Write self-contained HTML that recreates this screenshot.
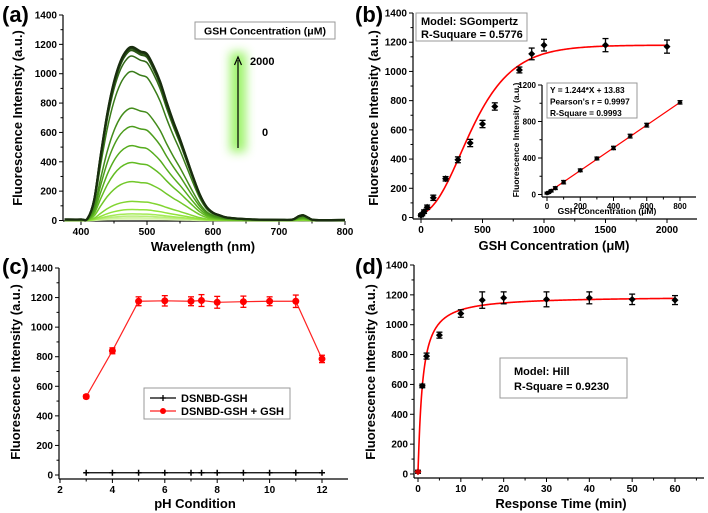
<!DOCTYPE html>
<html><head><meta charset="utf-8">
<style>
html,body{margin:0;padding:0;background:#fff;}
svg{display:block;font-family:"Liberation Sans",Arial,sans-serif;font-weight:bold;}
</style></head>
<body>
<svg id="fig" width="708" height="513" viewBox="0 0 708 513" xmlns="http://www.w3.org/2000/svg">
<defs>
<filter id="glow" x="-100%" y="-50%" width="300%" height="200%"><feGaussianBlur stdDeviation="5"/></filter>
</defs>
<g id="pa"></g>
<g id="pb"></g>
<g id="pc"></g>
<g id="pd"></g>
</svg>
<script>
// ---- Panel (a) data ----
const specWl = [375,400,410,420,430,440,450,460,470,478,490,500,510,520,530,540,550,560,570,580,590,600,610,620,640,660,700,720,730,737,745,755,800];
const specShape = [0.006,0.006,0.012,0.12,0.38,0.62,0.80,0.92,0.985,1.0,0.975,0.96,0.89,0.80,0.68,0.57,0.47,0.36,0.25,0.15,0.08,0.045,0.03,0.018,0.01,0.006,0.004,0.005,0.025,0.03,0.015,0.003,0.003];
const specPeaks = [8,18,30,45,75,130,265,395,510,640,765,1015,1120,1160,1175,1182];
// ---- Panel (b) data ----
const bConc = [0,10,25,50,100,200,300,400,500,600,800,900,1000,1500,2000];
const bVal = [15,22,40,70,135,265,395,510,640,760,1010,1120,1180,1180,1170];
const bErr = [10,10,12,15,18,15,20,25,25,25,20,40,40,45,45];
const bFit = [1180,0.00437,321]; // SGompertz a,k,xc
const insConc = [0,10,25,50,100,200,300,400,500,600,800];
const insVal = [15,22,40,70,135,265,395,510,640,760,1010];
const insErr = [10,10,12,15,18,15,15,18,20,20,18];
const insFit = [1.244,13.83];
// ---- Panel (c) data ----
const cPH = [3,4,5,6,7,7.4,8,9,10,11,12];
const cRed = [530,840,1175,1178,1175,1180,1168,1172,1175,1175,785];
const cRedErr = [12,20,30,35,30,40,40,38,30,42,25];
const cBlack = [15,15,15,15,15,15,15,15,15,15,15];
// ---- Panel (d) data ----
const dT = [0,1,2,5,10,15,20,30,40,50,60];
const dVal = [15,590,790,930,1075,1165,1180,1170,1180,1170,1165];
const dErr = [10,12,20,20,25,55,40,50,40,35,30];
const dFit = [1190,1.05,1.1]; // Hill Vmax,k,n

const NS="http://www.w3.org/2000/svg";
function mk(parent,tag,attrs,text){const e=document.createElementNS(NS,tag);for(const k in attrs)e.setAttribute(k,attrs[k]);if(text!==undefined)e.textContent=text;parent.appendChild(e);return e;}
function lin(d0,d1,r0,r1){return v=>r0+(v-d0)*(r1-r0)/(d1-d0);}
function smoothPath(pts){let d="M"+pts[0][0].toFixed(2)+","+pts[0][1].toFixed(2);for(let i=0;i<pts.length-1;i++){const p0=pts[i-1]||pts[i],p1=pts[i],p2=pts[i+1],p3=pts[i+2]||p2;const c1=[p1[0]+(p2[0]-p0[0])/6,p1[1]+(p2[1]-p0[1])/6],c2=[p2[0]-(p3[0]-p1[0])/6,p2[1]-(p3[1]-p1[1])/6];d+="C"+c1.map(v=>v.toFixed(2))+" "+c2.map(v=>v.toFixed(2))+" "+p2.map(v=>v.toFixed(2));}return d;}

function axes(g,o){
  const fs=o.fs||10;
  const ax=mk(g,"g",{});
  
  
  mk(ax,"line",{x1:o.ax,y1:o.ay,x2:o.xEnd,y2:o.ay,stroke:"#000","stroke-width":1.2});
  mk(ax,"line",{x1:o.ax,y1:o.ay,x2:o.ax,y2:o.yTop,stroke:"#000","stroke-width":1.2});
  o.xt.forEach((v,i)=>{const x=o.xs(v);mk(ax,"line",{x1:x,y1:o.ay,x2:x,y2:o.ay+4,stroke:"#000","stroke-width":1});
    const t=mk(ax,"text",{x:x,y:o.ay+4+fs,"text-anchor":"middle","font-size":fs},v);
    
    
    if(i<o.xt.length-1){const m=o.xs((v+o.xt[i+1])/2);mk(ax,"line",{x1:m,y1:o.ay,x2:m,y2:o.ay+2.5,stroke:"#000","stroke-width":1});}
    else if(o.xMinorEnd){const m=o.xs(v+(v-o.xt[i-1])/2);if(m<=o.xEnd)mk(ax,"line",{x1:m,y1:o.ay,x2:m,y2:o.ay+2.5,stroke:"#000","stroke-width":1});}
  });
  o.yt.forEach((v,i)=>{const y=o.ys(v);mk(ax,"line",{x1:o.ax,y1:y,x2:o.ax-4,y2:y,stroke:"#000","stroke-width":1});
    const t=mk(ax,"text",{x:o.ax-6,y:y+fs*0.35,"text-anchor":"end","font-size":fs},v);
    
    
    if(i<o.yt.length-1){const m=o.ys((v+o.yt[i+1])/2);mk(ax,"line",{x1:o.ax,y1:m,x2:o.ax-2.5,y2:m,stroke:"#000","stroke-width":1});}
  });
  const xt=mk(g,"text",{x:o.xtx,y:o.xty,"text-anchor":"middle","font-size":o.tfs||13},o.xtitle);
  
  
  const yt=mk(g,"text",{x:0,y:0,"text-anchor":"middle","font-size":o.tfs||13,transform:`translate(${o.ytx},${o.yty}) rotate(-90)`},o.ytitle);
  
  
}
function errBar(g,x,y1,y2,col,cap){mk(g,"line",{x1:x,y1:y1,x2:x,y2:y2,stroke:col,"stroke-width":1.3});mk(g,"line",{x1:x-cap,y1:y1,x2:x+cap,y2:y1,stroke:col,"stroke-width":1.3});mk(g,"line",{x1:x-cap,y1:y2,x2:x+cap,y2:y2,stroke:col,"stroke-width":1.3});}
function diamond(g,x,y,s,col){return mk(g,"path",{d:`M${x},${y-s}L${x+s},${y}L${x},${y+s}L${x-s},${y}Z`,fill:col});}
function panelLabel(g,x,y,t){const e=mk(g,"text",{x:x,y:y,"font-size":22},t);}
function box(g,x,y,w,h){return mk(g,"rect",{x:x,y:y,width:w,height:h,fill:"#fff",stroke:"#999","stroke-width":1});}

// ---------- Panel A ----------
(function(){
  const g=document.getElementById("pa");
  const xs=lin(400,800,81,345), ys=lin(0,1400,220.5,15);
  panelLabel(g,2,22,"(a)");
  axes(g,{name:"panel-a",ax:63,ay:221,xEnd:345,yTop:15,xs,ys,xt:[400,500,600,700,800],yt:[0,200,400,600,800,1000,1200,1400],xtx:203,xty:251,ytx:22,yty:118,xtitle:"Wavelength (nm)",ytitle:"Fluorescence Intensity (a.u.)",fs:10});
  const stops=[[225,248,190],[150,230,60],[90,180,30],[55,120,25],[25,45,15]];
  function col(t){const s=t*(stops.length-1),i=Math.min(stops.length-2,Math.floor(s)),f=s-i;const c=stops[i].map((v,k)=>Math.round(v+(stops[i+1][k]-v)*f));return `rgb(${c})`;}
  specPeaks.forEach((pk,i)=>{
    const pts=specWl.map((w,j)=>[Math.max(64,xs(w)),ys(pk*specShape[j])]);
    const t=i/(specPeaks.length-1);
    const p=mk(g,"path",{d:smoothPath(pts),fill:"none",stroke:col(t),"stroke-width":i>=specPeaks.length-3?2.2:1.5});
    
    
  });
  const glow=mk(g,"rect",{x:230,y:52,width:16,height:100,fill:"#7ef03a",opacity:0.75,filter:"url(#glow)"});
  
  
  const ar=mk(g,"g",{});
  
  
  mk(ar,"line",{x1:238,y1:148,x2:238,y2:60,stroke:"#000","stroke-width":1.2});
  mk(ar,"path",{d:"M234.5,65 L238,57 L241.5,65",fill:"none",stroke:"#000","stroke-width":1.2});
  const t1=mk(g,"text",{x:250,y:65,"font-size":11},"2000");
  const t2=mk(g,"text",{x:262,y:136,"font-size":11},"0");
  const lb=box(g,195,22,140,17);
  const lt=mk(g,"text",{x:265,y:34.5,"text-anchor":"middle","font-size":10.5},"GSH Concentration (μM)");
})();

// ---------- Panel B ----------
(function(){
  const g=document.getElementById("pb");
  const xs=lin(0,2000,421,667), ys=lin(0,1400,217.5,13);
  panelLabel(g,355,22,"(b)");
  axes(g,{name:"panel-b",ax:413,ay:219,xEnd:697,yTop:13,xs,ys,xt:[0,500,1000,1500,2000],yt:[0,200,400,600,800,1000,1200,1400],xtx:554,xty:250,ytx:378,yty:118,xtitle:"GSH Concentration (μM)",ytitle:"Fluorescence Intensity (a.u.)",fs:10,xMinorEnd:true});
  const fp=[];for(let x=0;x<=2000;x+=10){fp.push([xs(x),ys(bFit[0]*Math.exp(-Math.exp(-bFit[1]*(x-bFit[2]))))]);}
  const fit=mk(g,"path",{d:"M"+fp.map(p=>p.map(v=>v.toFixed(2)).join(",")).join("L"),fill:"none",stroke:"#f00","stroke-width":1.6});
  
  bConc.forEach((c,i)=>{const x=xs(c),y=ys(bVal[i]);errBar(g,x,ys(bVal[i]+bErr[i]),ys(bVal[i]-bErr[i]),"#000",3);
    const d=diamond(g,x,y,3.5,"#000");});
  const tb=box(g,416,13,111,28);
  const m1=mk(g,"text",{x:421,y:25,"font-size":11},"Model: SGompertz");
  const m2=mk(g,"text",{x:421,y:38,"font-size":11},"R-Suquare = 0.5776");
  // inset
  const ig=mk(g,"g",{});
  
  
  const ixs=lin(0,800,547,680), iys=lin(0,1200,194.5,85);
  axes(ig,{name:"inset",ax:542,ay:197,xEnd:696,yTop:85,xs:ixs,ys:iys,xt:[0,200,400,600,800],yt:[0,400,800,1200],xtx:607,xty:214,ytx:519,yty:140,xtitle:"GSH Concentration (μM)",ytitle:"Fluorescence Intensity (a.u.)",fs:8,tfs:8.5,xMinorEnd:true});
  const il=mk(ig,"line",{x1:ixs(0),y1:iys(insFit[1]),x2:ixs(800),y2:iys(insFit[0]*800+insFit[1]),stroke:"#f00","stroke-width":1.2});
  
  insConc.forEach((c,i)=>{const x=ixs(c),y=iys(insVal[i]);errBar(ig,x,iys(insVal[i]+insErr[i]),iys(insVal[i]-insErr[i]),"#000",2.5);
    const d=diamond(ig,x,y,2.5,"#000");});
  const ib=box(ig,547,83,90,35);
  ["Y = 1.244*X + 13.83","Pearson's r = 0.9997","R-Square = 0.9993"].forEach((s,i)=>{const t=mk(ig,"text",{x:550,y:93+i*11.5,"font-size":8.3},s);});
})();

// ---------- Panel C ----------
(function(){
  const g=document.getElementById("pc");
  const xs=lin(2,12,60,322), ys=lin(0,1400,475,268);
  panelLabel(g,2,274,"(c)");
  axes(g,{name:"panel-c",ax:59,ay:479,xEnd:348,yTop:268,xs,ys,xt:[2,4,6,8,10,12],yt:[0,200,400,600,800,1000,1200,1400],xtx:195,xty:508,ytx:20,yty:372,xtitle:"pH Condition",ytitle:"Fluorescence Intensity (a.u.)",fs:10,xMinorEnd:true});
  const bl=mk(g,"polyline",{points:cPH.map((p,i)=>xs(p)+","+ys(cBlack[i])).join(" "),fill:"none",stroke:"#000","stroke-width":1.2});
  
  cPH.forEach((p,i)=>{const x=xs(p),y=ys(cBlack[i]);const m=mk(g,"path",{d:`M${x-3},${y}H${x+3}M${x},${y-3}V${y+3}`,stroke:"#000","stroke-width":1.5});});
  const rl=mk(g,"polyline",{points:cPH.map((p,i)=>xs(p)+","+ys(cRed[i])).join(" "),fill:"none",stroke:"#f22","stroke-width":1.2});
  
  cPH.forEach((p,i)=>{const x=xs(p),y=ys(cRed[i]);errBar(g,x,ys(cRed[i]+cRedErr[i]),ys(cRed[i]-cRedErr[i]),"#f00",3);
    const c=mk(g,"circle",{cx:x,cy:y,r:3.5,fill:"#f00"});});
  const lg=mk(g,"g",{});
  box(lg,144,388,146,31);
  mk(lg,"line",{x1:150,y1:398,x2:176,y2:398,stroke:"#000","stroke-width":1.2});
  mk(lg,"path",{d:"M160,398H166M163,395V401",stroke:"#000","stroke-width":1.3});
  const e1=mk(lg,"text",{x:181,y:402,"font-size":11},"DSNBD-GSH");
  mk(lg,"line",{x1:150,y1:411,x2:176,y2:411,stroke:"#f22","stroke-width":1.2});
  mk(lg,"circle",{cx:163,cy:411,r:3,fill:"#f00"});
  const e2=mk(lg,"text",{x:181,y:415,"font-size":11},"DSNBD-GSH + GSH");
})();

// ---------- Panel D ----------
(function(){
  const g=document.getElementById("pd");
  const xs=lin(0,60,418,675), ys=lin(0,1400,474,265);
  panelLabel(g,355,274,"(d)");
  axes(g,{name:"panel-d",ax:414,ay:478,xEnd:704,yTop:265,xs,ys,xt:[0,10,20,30,40,50,60],yt:[0,200,400,600,800,1000,1200,1400],xtx:561,xty:508,ytx:375,yty:372,xtitle:"Response Time (min)",ytitle:"Fluorescence Intensity (a.u.)",fs:10,xMinorEnd:true});
  const fp=[];for(let t=0;t<=60;t+=0.1){fp.push([xs(t),ys(dVal[0]+(dFit[0]-dVal[0])*Math.pow(t,dFit[2])/(Math.pow(dFit[1],dFit[2])+Math.pow(t,dFit[2])))]);}
  const fit=mk(g,"path",{d:"M"+fp.map(p=>p.map(v=>v.toFixed(2)).join(",")).join("L"),fill:"none",stroke:"#f00","stroke-width":1.6});
  
  dT.forEach((t,i)=>{const x=xs(t),y=ys(dVal[i]);errBar(g,x,ys(dVal[i]+dErr[i]),ys(dVal[i]-dErr[i]),"#000",3);
    const d=diamond(g,x,y,3.5,i===0?"#c00":"#000");});
  const tb=box(g,500,358,127,40);
  const m1=mk(g,"text",{x:514,y:375,"font-size":11},"Model: Hill");
  const m2=mk(g,"text",{x:514,y:390,"font-size":11},"R-Square = 0.9230");
})();
</script>
</body></html>
